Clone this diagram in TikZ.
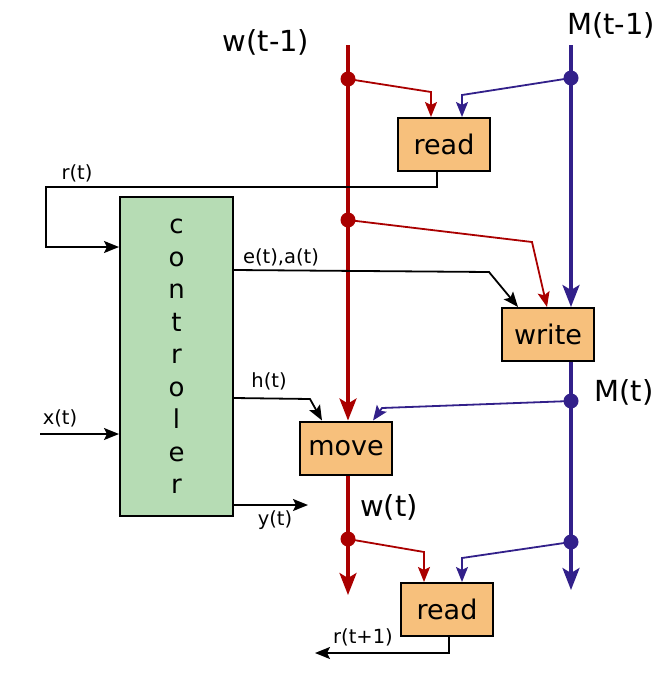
\documentclass[tikz,border=0pt]{standalone}
\usepackage{fontspec}
\setmainfont{DejaVu Sans}
\usetikzlibrary{arrows.meta}

\definecolor{wire}{RGB}{170, 0, 0}
\definecolor{mem}{RGB}{50, 32, 138}
\definecolor{opfill}{RGB}{247, 192, 124}
\definecolor{ctrlfill}{RGB}{182, 220, 180}

\tikzset{
	op/.style = {draw = black, line width = 2, fill = opfill, minimum width = 92, minimum height = 53, inner sep = 0, font = \fontsize{27}{30}\selectfont},
	ctrl/.style = {draw = black, line width = 2, fill = ctrlfill, minimum width = 113, minimum height = 319, inner sep = 0, align = center, font = \fontsize{26}{32.5}\selectfont},
	biglabel/.style = {font = \fontsize{29}{32}\selectfont},
	smalllabel/.style = {font = \fontsize{19.5}{22}\selectfont},
	bigtip/.style = {-{Stealth[length = 22, width = 17, inset = 5]}},
	smalltip/.style = {-{Stealth[length = 15, width = 12, inset = 3]}},
	mainline/.style = {line width = 3.2},
	thinline/.style = {line width = 1.8}
}

\begin{document}
\begin{tikzpicture}[x = 1pt, y = -1pt]

	\useasboundingbox (0, 0) rectangle (659, 681);

	% Boxes
	
	\node [op] (read1) at (444, 144.5) {read};
	\node [op] (write) at (548, 334.5) {write};
	\node [op] (move) at (346, 448) {move};
	\node [op] (read2) at (447, 609.5) {read};
	\node [ctrl] (controler) at (176.5, 356.5) {c\\o\\n\\t\\r\\o\\l\\e\\r};
	
	% Ends and taps
	
	\coordinate (wtop) at (348, 45);
	\coordinate (wbot) at (348, 595);
	\coordinate (mtop) at (571, 45);
	\coordinate (mbot) at (571, 590);
	\coordinate (wtap1) at (348, 79);
	\coordinate (wtap2) at (348, 220);
	\coordinate (wtap3) at (348, 539);
	\coordinate (mtap1) at (571, 78);
	\coordinate (mtap2) at (571, 401);
	\coordinate (mtap3) at (571, 542);
	\coordinate (xin) at (40, 434);
	\coordinate (yout) at (308, 505);
	\coordinate (rout) at (315, 653);
	
	% Weighting w
	
	\draw [wire, mainline, bigtip] (wtop) -- (wtop |- move.north);
	\draw [wire, mainline, bigtip] (move.south -| wtop) -- (wbot);
	
	% Memory M
	
	\draw [mem, mainline, bigtip] (mtop) -- (mtop |- write.north);
	\draw [mem, mainline, bigtip] (write.south -| mtop) -- (mbot);
	
	% Reads and writes
	
	\draw [wire, thinline, smalltip] (wtap1) -- (431, 92) -- (431, 92 |- read1.north);
	\draw [mem, thinline, smalltip] (mtap1) -- (462, 95) -- (462, 95 |- read1.north);
	\draw [wire, thinline, smalltip] (wtap2) -- (532, 242) -- (547, 242 |- write.north);
	\draw [mem, thinline, smalltip] (mtap2) -- (382, 408) -- (373, 408 |- move.north);
	\draw [wire, thinline, smalltip] (wtap3) -- (424, 552) -- (424, 552 |- read2.north);
	\draw [mem, thinline, smalltip] (mtap3) -- (462, 558) -- (462, 558 |- read2.north);
	
	\foreach \tap in {wtap1, wtap2, wtap3}
		\fill [wire] (\tap) circle (7.5);
	\foreach \tap in {mtap1, mtap2, mtap3}
		\fill [mem] (\tap) circle (7.5);
	
	% Controller signals
	
	\draw [thinline, smalltip] (437, 171 |- read1.south) -- (437, 187) -- (46, 187) -- (46, 247) -- (controler.west |- 0, 247);
	\draw [thinline, smalltip] (controler.east |- 0, 270) -- (489, 272) -- (518, 272 |- write.north);
	\draw [thinline, smalltip] (controler.east |- 0, 398) -- (310, 399) -- (322, 399 |- move.north);
	\draw [thinline, smalltip] (xin) -- (controler.west |- xin);
	\draw [thinline, smalltip] (controler.east |- yout) -- (yout);
	\draw [thinline, smalltip] (449, 636 |- read2.south) -- (449, 653) -- (rout);
	
	% Labels
	
	\node [biglabel] (wprev) at (266, 42) {w(t-1)};
	\node [biglabel] (mprev) at (611, 25) {M(t-1)};
	\node [biglabel] (mnow) at (624, 392) {M(t)};
	\node [biglabel] (wnow) at (389, 507) {w(t)};
	\node [smalllabel] (rlabel) at (77, 173) {r(t)};
	\node [smalllabel] (ealabel) at (281, 257) {e(t),a(t)};
	\node [smalllabel] (hlabel) at (269, 381) {h(t)};
	\node [smalllabel] (xlabel) at (60, 418) {x(t)};
	\node [smalllabel] (ylabel) at (275, 520) {y(t)};
	\node [smalllabel] (rnext) at (363, 637) {r(t+1)};
	
\end{tikzpicture}
\end{document}
